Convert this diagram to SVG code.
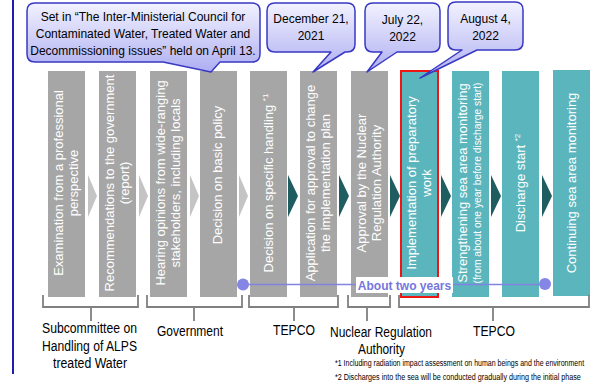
<svg xmlns="http://www.w3.org/2000/svg" width="600" height="386" viewBox="0 0 600 386">
<defs>
<linearGradient id="bub" x1="0" y1="0" x2="0" y2="1">
<stop offset="0" stop-color="#f2f2ff"/>
<stop offset="1" stop-color="#aeaef2"/>
</linearGradient>
<style>
text{font-family:"Liberation Sans",Arial,sans-serif;}
.col{fill:#a6a6a6;}
.teal{fill:#5bb5bd;}
.ct{fill:#fff;font-size:13px;text-anchor:middle;}
.bub{fill:url(#bub);stroke:#3838c4;stroke-width:1.5;stroke-linejoin:round;}
.bt{fill:#000;font-size:12px;text-anchor:middle;}
.chg{fill:#c4c4c4;}
.chd{fill:#1f5d61;}
.br{fill:none;stroke:#808080;stroke-width:1.8;}
.lab{fill:#000;font-size:14px;text-anchor:middle;}
.fn{fill:#000;font-size:9px;}
.sup{font-size:8px;}
</style>
</defs>
<rect width="600" height="386" fill="#fff"/>
<line x1="13" y1="0" x2="13" y2="374" stroke="#1e1eac" stroke-width="2"/>

<g id="connectors">
<polygon class="chg" points="88,175 97,196 88,217"/>
<polygon class="chg" points="139,175 148,196 139,217"/>
<polygon class="chg" points="190,175 199,196 190,217"/>
<polygon class="chg" points="239,175 248,196 239,217"/>
<polygon class="chd" points="288,175 298,196 288,217"/>
<polygon class="chd" points="339,175 349,196 339,217"/>
<polygon class="chd" points="390,175 400,196 390,217"/>
<polygon class="chd" points="441,175 451,196 441,217"/>
<polygon class="chd" points="491,175 501,196 491,217"/>
<polygon class="chd" points="542,175 552,196 542,217"/>
</g>

<g id="n1"><rect class="col" x="48" y="71" width="37" height="226"/>
<g transform="translate(66.5,183) rotate(-90)"><text class="ct" y="-4">Examination from a professional</text><text class="ct" y="11">perspective</text></g></g>
<g id="n2"><rect class="col" x="99" y="71" width="37" height="226"/>
<g transform="translate(117.5,183) rotate(-90)"><text class="ct" y="-4">Recommendations to the government</text><text class="ct" y="11">(report)</text></g></g>
<g id="n3"><rect class="col" x="150" y="71" width="37" height="226"/>
<g transform="translate(168.5,183) rotate(-90)"><text class="ct" y="-4">Hearing opinions from wide-ranging</text><text class="ct" y="11">stakeholders, including locals</text></g></g>
<g id="n4"><rect class="col" x="200" y="71" width="37" height="226"/>
<g transform="translate(218.5,183) rotate(-90)"><text class="ct" x="8" y="3">Decision on basic policy</text></g></g>
<g id="n5"><rect class="col" x="250" y="71" width="37" height="226"/>
<g transform="translate(268.5,183) rotate(-90)"><text class="ct" y="4">Decision on specific handling <tspan class="sup" dy="-5">*1</tspan></text></g></g>
<g id="n6"><rect class="col" x="300" y="71" width="37" height="226"/>
<g transform="translate(318.5,183) rotate(-90)"><text class="ct" y="-4">Application for approval to change</text><text class="ct" y="11">the implementation plan</text></g></g>
<g id="n7"><rect class="col" x="351" y="71" width="37" height="226"/>
<g transform="translate(369.5,183) rotate(-90)"><text class="ct" y="-4">Approval by the Nuclear</text><text class="ct" y="11">Regulation Authority</text></g></g>
<g id="n8"><rect class="teal" x="401" y="71" width="37" height="226" stroke="#ee1515" stroke-width="2"/>
<g transform="translate(419.5,183) rotate(-90)"><text class="ct" y="-4">Implementation of preparatory</text><text class="ct" y="11">work</text></g></g>
<g id="n9"><rect class="teal" x="452" y="71" width="37" height="226"/>
<g transform="translate(470.5,183) rotate(-90)"><text class="ct" y="-4">Strengthening sea area monitoring</text><text class="ct" y="10.5" style="font-size:10.3px" textLength="201" lengthAdjust="spacingAndGlyphs">(from about one year before discharge start)</text></g></g>
<g id="n10"><rect class="teal" x="502" y="71" width="37" height="226"/>
<g transform="translate(520.5,183) rotate(-90)"><text class="ct" y="4">Discharge start <tspan class="sup" dy="-5">*2</tspan></text></g></g>
<g id="n11"><rect class="teal" x="553" y="70" width="37" height="226"/>
<g transform="translate(571.5,183) rotate(-90)"><text class="ct" y="4">Continuing sea area monitoring</text></g></g>

<g id="bubble1">
<path class="bub" d="M35,3 H252 Q260,3 260,11 V54 Q260,62 252,62 H220 L211,72 L163,62 H35 Q27,62 27,54 V11 Q27,3 35,3 Z"/>
<text class="bt" x="143" y="20.5">Set in “The Inter-Ministerial Council for</text>
<text class="bt" x="143" y="37.5">Contaminated Water, Treated Water and</text>
<text class="bt" x="143" y="54.5">Decommissioning issues” held on April 13.</text>
</g>
<g id="bubble2">
<path class="bub" d="M275,3 H347 Q355,3 355,11 V44 Q355,52 347,52 H345 L313,72 L331,52 H275 Q267,52 267,44 V11 Q267,3 275,3 Z"/>
<text class="bt" x="311" y="23">December 21,</text>
<text class="bt" x="311" y="40">2021</text>
</g>
<g id="bubble3">
<path class="bub" d="M373,3 H432 Q440,3 440,11 V44 Q440,52 432,52 H397 L367,72 L382,52 H373 Q365,52 365,44 V11 Q365,3 373,3 Z"/>
<text class="bt" x="402.5" y="24">July 22,</text>
<text class="bt" x="402.5" y="41">2022</text>
</g>
<g id="bubble4">
<path class="bub" d="M456,2 H515 Q523,2 523,10 V42 Q523,50 515,50 H477 L420,78 L462,50 H456 Q448,50 448,42 V10 Q448,2 456,2 Z"/>
<text class="bt" x="485.5" y="23">August 4,</text>
<text class="bt" x="485.5" y="40">2022</text>
</g>

<g id="period">
<line x1="243" y1="284.5" x2="545" y2="284.5" stroke="#8282e0" stroke-width="1.5"/>
<circle cx="243" cy="284.5" r="6" fill="#8585e6"/>
<circle cx="545" cy="284" r="6" fill="#8585e6"/>
<rect x="356" y="277" width="97" height="16" fill="#fff"/>
<text x="404.5" y="290" style="font-size:12px;font-weight:bold;fill:#7676de;text-anchor:middle">About two years</text>
</g>

<g id="brackets">
<path class="br" d="M43,295 V307 H138 V295 M91,307 V321"/>
<path class="br" d="M147,295 V307 H242 V295 M194,307 V321"/>
<path class="br" d="M249,295 V307 H338 V295 M294,307 V321"/>
<path class="br" d="M348,295 V307 H390 V295 M367,307 V321"/>
<path class="br" d="M399,295 V307 H589 V295 M493,307 V321"/>
</g>

<g id="labels">
<text class="lab" x="89.5" y="333" textLength="95" lengthAdjust="spacingAndGlyphs">Subcommittee on</text>
<text class="lab" x="89.5" y="350.5" textLength="95" lengthAdjust="spacingAndGlyphs">Handling of ALPS</text>
<text class="lab" x="90" y="368" textLength="74" lengthAdjust="spacingAndGlyphs">treated Water</text>
<text class="lab" x="190" y="336" textLength="66" lengthAdjust="spacingAndGlyphs">Government</text>
<text class="lab" x="294" y="335" textLength="42" lengthAdjust="spacingAndGlyphs">TEPCO</text>
<text class="lab" x="381" y="337" textLength="102" lengthAdjust="spacingAndGlyphs">Nuclear Regulation</text>
<text class="lab" x="381.5" y="354" textLength="47" lengthAdjust="spacingAndGlyphs">Authority</text>
<text class="lab" x="494" y="336" textLength="42" lengthAdjust="spacingAndGlyphs">TEPCO</text>
</g>

<g id="footnotes">
<text class="fn" transform="translate(335,366) scale(0.78,1)">*1 Including radiation impact assessment on human beings and the environment</text>
<text class="fn" transform="translate(335,380) scale(0.8,1)">*2 Discharges into the sea will be conducted gradually during the initial phase</text>
</g>
</svg>
